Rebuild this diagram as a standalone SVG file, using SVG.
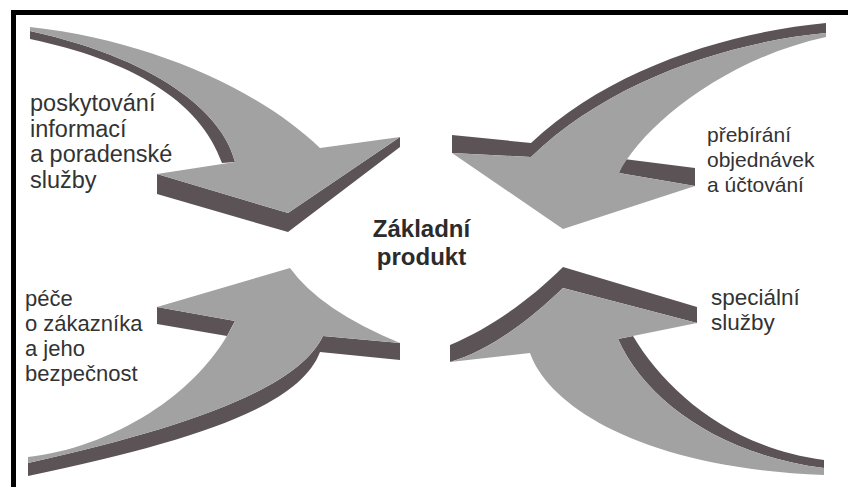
<svg xmlns="http://www.w3.org/2000/svg" width="848" height="487" viewBox="0 0 848 487">
<style>
.face{fill:#a2a2a2}
.side{fill:#5c5357}
.lbl{font-family:"Liberation Sans",Arial,sans-serif;fill:#333;font-size:22px}
.main{font-family:"Liberation Sans",Arial,sans-serif;fill:#2b2b2b;font-size:24px;font-weight:bold;text-anchor:middle}
</style>
<rect width="848" height="487" fill="#fff"/>
<g id="frame">
<rect x="11" y="10" width="837" height="5" fill="#000"/>
<rect x="11" y="10" width="5" height="477" fill="#000"/>
</g>
<g id="connectors">
<g id="arrow-top-left">
<path class="side" d="M235,162 C225,120 170,62 30,31 L30,39 C130,60 200,100 222,163 Z"/>
<path class="side" d="M157,174 L157,194 L288,232 L400,147 L400,137 L288,213 Z"/>
<path class="face" d="M30,27 C150,40 260,90 320,148 L400,137 L288,213 L157,174 L235,162 C225,120 170,62 30,31 Z"/>
</g>
<g id="arrow-top-right">
<path class="side" d="M826,33 C730,42 610,80 531,157 L452,153 L452,135 L531,143 C610,68 730,32 826,23 Z"/>
<path class="side" d="M619,173 L624,159 L695,168 L695,186 Z"/>
<path class="face" d="M826,33 C730,42 610,80 531,157 L452,153 L563,229 L695,186 L619,173 C640,130 720,60 826,37 Z"/>
</g>
<g id="arrow-bottom-left">
<path class="side" d="M323,336 C300,385 200,425 28,463 L28,476 C200,440 300,405 320,352 L400,360 L400,343 Z"/>
<path class="side" d="M157,307 L157,324 L227,336 L235,321 Z"/>
<path class="face" d="M28,457 C110,448 200,395 235,321 L157,307 L290,268 Q320,310 400,343 L323,336 C300,385 200,425 28,463 Z"/>
</g>
<g id="arrow-bottom-right">
<path class="side" d="M618,339 C645,400 720,455 824,468 L824,460 C730,448 665,390 633,336 Z"/>
<path class="side" d="M450,362 L450,345 C490,328 530,300 563,267 L697,307 L697,323 L563,288 C530,320 490,350 450,362 Z"/>
<path class="face" d="M824,475 C640,468 548,405 530,353 L450,362 C490,350 530,320 563,288 L697,323 L618,339 C645,400 720,455 824,468 Z"/>
</g>
</g>
<g id="node-center">
<text class="main" x="421.5" y="237">Základní</text>
<text class="main" x="421.5" y="265">produkt</text>
</g>
<g id="node-top-left">
<text class="lbl" style="font-size:23.5px" x="30" y="111">poskytování</text>
<text class="lbl" style="font-size:23.5px" x="30" y="137">informací</text>
<text class="lbl" style="font-size:23.5px" x="30" y="162">a poradenské</text>
<text class="lbl" style="font-size:23.5px" x="30" y="188">služby</text>
</g>
<g id="node-top-right">
<text class="lbl" style="font-size:21px" x="707" y="142">přebírání</text>
<text class="lbl" style="font-size:21px" x="707" y="167">objednávek</text>
<text class="lbl" style="font-size:21px" x="707" y="192">a účtování</text>
</g>
<g id="node-bottom-left">
<text class="lbl" x="25" y="306">péče</text>
<text class="lbl" x="25" y="331">o zákazníka</text>
<text class="lbl" x="25" y="356">a jeho</text>
<text class="lbl" x="25" y="381">bezpečnost</text>
</g>
<g id="node-bottom-right">
<text class="lbl" style="font-size:22.5px" x="711" y="305">speciální</text>
<text class="lbl" style="font-size:22.5px" x="711" y="330">služby</text>
</g>
</svg>
